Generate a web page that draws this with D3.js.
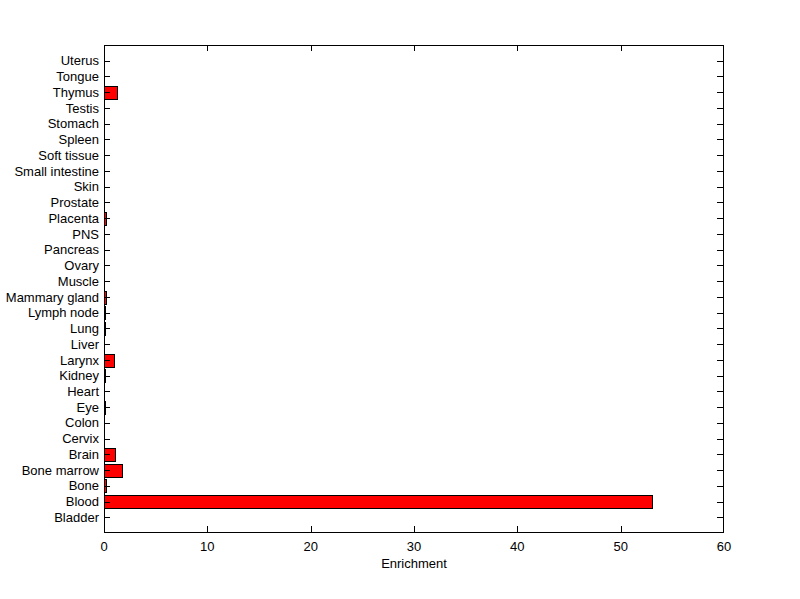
<!DOCTYPE html>
<html>
<head>
<meta charset="utf-8">
<script src="https://cdn.jsdelivr.net/npm/d3@7"></script>
<style>
html,body{margin:0;padding:0;background:#fff;}
svg{display:block;}
text{font-family:"Liberation Sans",Arial,sans-serif;font-size:13px;fill:#000;}
</style>
</head>
<body>
<svg id="chart" width="800" height="599"></svg>
<script>
const categories = ["Bladder","Blood","Bone","Bone marrow","Brain","Cervix","Colon","Eye","Heart","Kidney","Larynx","Liver","Lung","Lymph node","Mammary gland","Muscle","Ovary","Pancreas","PNS","Placenta","Prostate","Skin","Small intestine","Soft tissue","Spleen","Stomach","Testis","Thymus","Tongue","Uterus"];
const enrichment = [0,53.0,0.15,1.77,1.03,0,0,0.12,0,0.12,0.94,0,0.1,0.08,0.2,0,0,0,0,0.2,0,0,0,0,0,0,0,1.23,0,0];
const xTicks = [0,10,20,30,40,50,60];
const xLabel = "Enrichment";

(function(){
const svg = d3.select("#chart");
const pl = 104, pr = 724, pt = 45, pb = 533;
const x = d3.scaleLinear().domain([0,60]).range([pl,pr]);
const y = d3.scaleLinear().domain([0,31]).range([pb,pt]);
const barH = y(0) - y(0.8);
const tickLen = 6;

const g = svg.append("g").attr("shape-rendering","crispEdges");

g.selectAll("rect.bar").data(categories).enter().append("rect")
  .attr("class","bar")
  .attr("x", x(0) + 0.5)
  .attr("y", (d,i) => Math.round(y(i+1) - barH/2) + 0.5)
  .attr("width", (d,i) => Math.max(0, x(enrichment[i]) - x(0)))
  .attr("height", Math.round(barH))
  .attr("fill", "#ff0000")
  .attr("stroke", "#000")
  .attr("stroke-width", 1);

g.append("rect")
  .attr("x", pl + 0.5).attr("y", pt + 0.5)
  .attr("width", pr - pl - 1).attr("height", pb - pt - 1)
  .attr("fill","none").attr("stroke","#000");

categories.forEach((c,i) => {
  const yy = Math.round(y(i+1)) + 0.5;
  g.append("line").attr("x1", pl).attr("x2", pl + tickLen).attr("y1", yy).attr("y2", yy).attr("stroke","#000");
  g.append("line").attr("x1", pr - 1 - tickLen).attr("x2", pr - 1).attr("y1", yy).attr("y2", yy).attr("stroke","#000");
  svg.append("text").attr("x", pl - 5).attr("y", y(i+1)).attr("dy","0.36em")
    .attr("text-anchor","end").text(c);
});

xTicks.forEach(t => {
  const xx = Math.min(Math.round(x(t)) + 0.5, pr - 0.5);
  g.append("line").attr("x1", xx).attr("x2", xx).attr("y1", pb - 1).attr("y2", pb - 1 - tickLen).attr("stroke","#000");
  g.append("line").attr("x1", xx).attr("x2", xx).attr("y1", pt).attr("y2", pt + tickLen).attr("stroke","#000");
  svg.append("text").attr("x", x(t)).attr("y", 551).attr("text-anchor","middle").text(t);
});

svg.append("text").attr("x", (pl+pr)/2).attr("y", 568).attr("text-anchor","middle").text(xLabel);
})();
</script>
</body>
</html>
